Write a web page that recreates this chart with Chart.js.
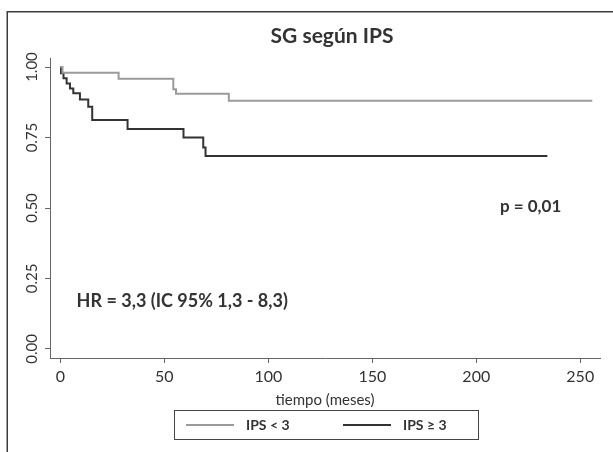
<!DOCTYPE html>
<html>
<head>
<meta charset="utf-8">
<script src="https://cdn.jsdelivr.net/npm/chart.js@4/dist/chart.umd.min.js"></script>
<style>
  html, body { margin: 0; padding: 0; background: #fff; }
  #wrap { width: 613px; height: 452px; }
</style>
</head>
<body>
<div id="wrap"><canvas id="km" width="613" height="452"></canvas></div>
<script>
  // curva de Kaplan-Meier: tiempo (meses) y supervivencia estimada
  const timeLow = [0, 1, 28, 54.3, 55.6, 81, 255.8];
  const survLow = [1, 0.98, 0.958, 0.921, 0.905, 0.88, 0.88];
  const timeHigh = [0, 0.3, 1.5, 3, 4.6, 6.2, 9.4, 13.4, 15.3, 32.3, 59.2, 68.7, 69.8, 234.2];
  const survHigh = [1, 0.978, 0.96, 0.942, 0.924, 0.907, 0.885, 0.859, 0.812, 0.78, 0.75, 0.715, 0.684, 0.684];

  const seriesLabels = ['IPS < 3', 'IPS \u2265 3'];
  const xTicks = [0, 50, 100, 150, 200, 250];
  const yTicks = [0, 0.25, 0.5, 0.75, 1];

  const chartTitle = 'SG seg\u00fan IPS';
  const xTitle = 'tiempo (meses)';
  const hrText = 'HR = 3,3 (IC 95% 1,3 - 8,3)';
  const pText = 'p = 0,01';

  const FONT = 'Lato, "Open Sans", sans-serif';
  const INK = '#333333';

  function toPoints(xs, ys) {
    return xs.map(function (x, i) { return { x: x, y: ys[i] }; });
  }

  const decorations = {
    id: 'decorations',
    afterDraw: function (chart) {
      const ctx = chart.ctx;
      const xs = chart.scales.x;
      const ys = chart.scales.y;
      ctx.save();

      // marco exterior
      ctx.strokeStyle = '#3c3c3c';
      ctx.lineWidth = 1.5;
      ctx.beginPath();
      ctx.moveTo(chart.width, 11.75);
      ctx.lineTo(7.25, 11.75);
      ctx.lineTo(7.25, chart.height);
      ctx.stroke();

      // titulo
      ctx.fillStyle = INK;
      ctx.font = 'bold 21px ' + FONT;
      ctx.textAlign = 'center';
      ctx.textBaseline = 'middle';
      ctx.fillText(chartTitle, 332, 36);

      // etiquetas del eje y, giradas
      ctx.font = '15px ' + FONT;
      yTicks.forEach(function (v) {
        ctx.save();
        ctx.translate(32, ys.getPixelForValue(v));
        ctx.rotate(-Math.PI / 2);
        ctx.fillText(v.toFixed(2), 0, 0);
        ctx.restore();
      });

      // anotaciones
      ctx.textAlign = 'left';
      ctx.font = 'bold 18px ' + FONT;
      ctx.fillText(hrText, xs.getPixelForValue(7.8), ys.getPixelForValue(0.171));
      ctx.font = 'bold 17px ' + FONT;
      ctx.fillText(pText, xs.getPixelForValue(211.4), ys.getPixelForValue(0.507));

      // leyenda
      const box = { left: 174.5, top: 410.5, width: 304, height: 29 };
      ctx.strokeStyle = '#444';
      ctx.lineWidth = 1;
      ctx.strokeRect(box.left, box.top, box.width, box.height);
      const cy = box.top + box.height / 2;
      const starts = [186, 343];
      ctx.font = 'bold 14px ' + FONT;
      chart.data.datasets.forEach(function (ds, i) {
        ctx.strokeStyle = ds.borderColor;
        ctx.lineWidth = ds.borderWidth;
        ctx.beginPath();
        ctx.moveTo(starts[i], cy);
        ctx.lineTo(starts[i] + 48, cy);
        ctx.stroke();
        ctx.fillStyle = INK;
        ctx.fillText(ds.label, starts[i] + 60, cy);
      });
      ctx.restore();
    }
  };

  new Chart(document.getElementById('km'), {
    type: 'line',
    data: {
      datasets: [{
        label: seriesLabels[0],
        data: toPoints(timeLow, survLow),
        borderColor: '#9b9b9b',
        borderWidth: 2,
        stepped: 'before',
        pointRadius: 0,
        fill: false
      }, {
        label: seriesLabels[1],
        data: toPoints(timeHigh, survHigh),
        borderColor: '#333333',
        borderWidth: 2,
        stepped: 'before',
        pointRadius: 0,
        fill: false
      }]
    },
    options: {
      responsive: false,
      devicePixelRatio: 1,
      animation: false,
      layout: { padding: { left: 0, top: 58, right: 13, bottom: 0 } },
      plugins: {
        legend: { display: false },
        title: { display: false },
        tooltip: { enabled: false }
      },
      scales: {
        x: {
          type: 'linear',
          min: -5,
          max: 259.5,
          afterBuildTicks: function (scale) {
            scale.ticks = xTicks.map(function (v) { return { value: v }; });
          },
          afterFit: function (scale) { scale.height = 94; },
          grid: { drawOnChartArea: false, drawTicks: true, tickLength: 5, color: '#666' },
          border: { display: true, color: '#666', width: 1 },
          ticks: {
            color: INK,
            font: { family: FONT, size: 16 },
            padding: 4,
            maxRotation: 0,
            callback: function (v) { return String(v); }
          },
          title: {
            display: true,
            text: xTitle,
            color: INK,
            font: { family: FONT, size: 15 },
            padding: { top: 0, bottom: 43 }
          }
        },
        y: {
          type: 'linear',
          min: -0.032,
          max: 1.032,
          afterBuildTicks: function (scale) {
            scale.ticks = yTicks.map(function (v) { return { value: v }; });
          },
          afterFit: function (scale) { scale.width = 50; },
          grid: { drawOnChartArea: false, drawTicks: true, tickLength: 5, color: '#666' },
          border: { display: true, color: '#666', width: 1 },
          ticks: { display: false }
        }
      }
    },
    plugins: [decorations]
  });
</script>
</body>
</html>
